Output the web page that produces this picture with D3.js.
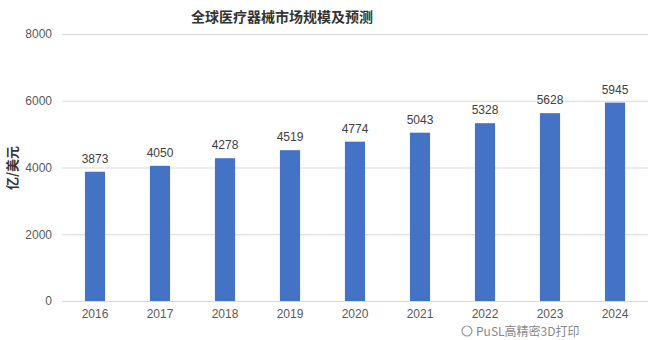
<!DOCTYPE html>
<html><head><meta charset="utf-8">
<script src="https://cdn.jsdelivr.net/npm/d3@7"></script>
<style>body{margin:0;background:#fff}svg{display:block}</style>
</head><body>
<svg id="c" width="650" height="340"></svg>
<script>
const years = ["2016","2017","2018","2019","2020","2021","2022","2023","2024"];
const values = [3873,4050,4278,4519,4774,5043,5328,5628,5945];
const yTicks = [0,2000,4000,6000,8000];
const title = "全球医疗器械市场规模及预测";
const yLabel = "亿/美元";
const watermark = "PuSL高精密3D打印";

const svg = d3.select("#c");
const font = "'Liberation Sans','Noto Sans CJK SC',sans-serif";
const x = d3.scaleBand().domain(years).range([62.5,647.5]).paddingInner(0.69).paddingOuter(0.345);
const y = d3.scaleLinear().domain([0,8000]).range([301,34]);

// grid
svg.append("g").selectAll("line").data(yTicks).join("line")
  .attr("x1",62).attr("x2",648).attr("y1",d=>y(d)+0.5).attr("y2",d=>y(d)+0.5)
  .attr("stroke","#d9d9d9").attr("stroke-width",1);

// y axis labels
const ya = svg.append("g").attr("transform","translate(52,0)")
  .call(d3.axisLeft(y).tickValues(yTicks).tickFormat(d3.format("d")).tickSize(0).tickPadding(0));
ya.select(".domain").remove();
ya.selectAll("text").attr("font-family",font).attr("font-size",12).attr("fill","#595959");

// x axis labels
const xa = svg.append("g").attr("transform","translate(0,309)").call(d3.axisBottom(x).tickSize(0).tickPadding(0));
xa.select(".domain").remove();
xa.selectAll("text").attr("font-family",font).attr("font-size",12).attr("fill","#595959").attr("dy","0.71em");

// bars
svg.append("g").selectAll("rect").data(values).join("rect")
  .attr("x",(d,i)=>x(years[i])).attr("width",x.bandwidth())
  .attr("y",d=>y(d)).attr("height",d=>y(0)-y(d)).attr("fill","#4472C4");

// value labels
svg.append("g").selectAll("text").data(values).join("text")
  .attr("x",(d,i)=>x(years[i])+x.bandwidth()/2).attr("y",d=>y(d)-9)
  .attr("text-anchor","middle").attr("font-family",font).attr("font-size",12).attr("fill","#404040")
  .text(d=>d);

// title
svg.append("text").attr("x",282).attr("y",22).attr("text-anchor","middle")
  .attr("font-family","'Noto Sans CJK SC',sans-serif").attr("font-weight","bold").attr("font-size",14).attr("fill","#333")
  .text(title);

// y label
svg.append("text").attr("transform","translate(17,168) rotate(-90)").attr("text-anchor","middle")
  .attr("font-family","'Noto Sans CJK SC',sans-serif").attr("font-weight","bold").attr("font-size",13).attr("fill","#333")
  .text(yLabel);

// watermark (placed just below the year labels so they stay legible)
const wm = svg.append("g");
wm.append("circle").attr("cx",467).attr("cy",331).attr("r",5).attr("fill","none").attr("stroke","#9a9a9a").attr("stroke-width",1.2);
wm.append("text").attr("x",476).attr("y",336).attr("font-family","'Noto Sans CJK SC',sans-serif").attr("font-size",12)
  .attr("fill","#888").text(watermark);
</script>
</body></html>
